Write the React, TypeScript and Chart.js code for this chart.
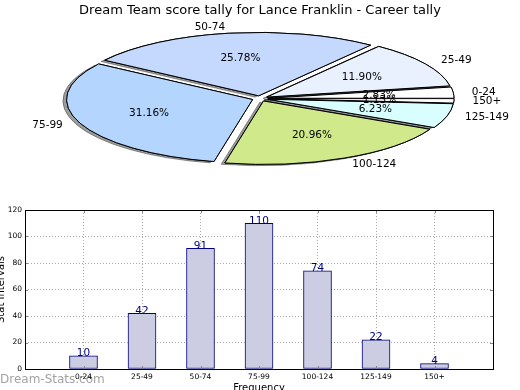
import React, { useEffect, useRef } from 'react';
import { Chart, registerables } from 'chart.js';

Chart.register(...registerables);

const TITLE = 'Dream Team score tally for Lance Franklin - Career tally';
const categories = ['0-24', '25-49', '50-74', '75-99', '100-124', '125-149', '150+'];
const counts = [10, 42, 91, 110, 74, 22, 4];
const sliceColors = ['#ffffff', '#e9f1fe', '#c4d9fd', '#b4d5fd', '#cfe98b', '#d9feff', '#ffffff'];
const yTicks = [0, 20, 40, 60, 80, 100, 120];
const X_TITLE = 'Frequency';
const Y_TITLE = 'Stat Intervals';
const WATERMARK = 'Dream-Stats.com';

const FONT = "'DejaVu Sans', 'Liberation Sans', sans-serif";
const total = counts.reduce((a, b) => a + b, 0);

// ellipse geometry for the tilted pie
const PIE_CX = 260;
const PIE_CY = 98.5;
const PIE_RX = 186;
const PIE_RY = 63.4;
const EXPLODE = 0.043;

function App() {
  const pieRef = useRef<HTMLCanvasElement | null>(null);
  const barRef = useRef<HTMLCanvasElement | null>(null);

  useEffect(() => {
    const pieLabels = [...categories].reverse();
    const pieValues = [...counts].reverse();
    const pieColors = [...sliceColors].reverse();

    const ellipsePie = {
      id: 'ellipsePie',
      beforeDatasetsDraw(chart: any) {
        const ctx = chart.ctx as CanvasRenderingContext2D;
        const els = chart.getDatasetMeta(0).data as any[];
        const dpr = chart.currentDevicePixelRatio || 1;
        const origStroke = CanvasRenderingContext2D.prototype.stroke;
        (ctx as any).stroke = function (...a: any[]) {
          this.save();
          this.setTransform(dpr, 0, 0, dpr, 0, 0);
          (origStroke as any).apply(this, a);
          this.restore();
        };
        const drawAll = () => {
          els.forEach((el) => {
            const r = el.outerRadius;
            const mid = (el.startAngle + el.endAngle) / 2;
            ctx.save();
            ctx.translate(
              PIE_CX + Math.cos(mid) * EXPLODE * PIE_RX,
              PIE_CY + Math.sin(mid) * EXPLODE * PIE_RY
            );
            ctx.scale(PIE_RX / r, PIE_RY / r);
            ctx.translate(-el.x, -el.y);
            el.draw(ctx);
            ctx.restore();
          });
        };
        ctx.save();
        ctx.shadowColor = 'rgba(60,60,60,0.5)';
        ctx.shadowOffsetX = -3.7;
        ctx.shadowOffsetY = 1.3;
        ctx.shadowBlur = 0;
        drawAll();
        ctx.restore();
        drawAll();
        delete (ctx as any).stroke;
        return false;
      },
      afterDraw(chart: any) {
        const ctx = chart.ctx as CanvasRenderingContext2D;
        const els = chart.getDatasetMeta(0).data as any[];
        const labels = chart.data.labels as string[];
        const values = chart.data.datasets[0].data as number[];
        ctx.save();
        ctx.fillStyle = '#000';
        ctx.font = `10.5px ${FONT}`;
        ctx.textBaseline = 'middle';
        els.forEach((el, i) => {
          const mid = (el.startAngle + el.endAngle) / 2;
          const c = Math.cos(mid);
          const s = Math.sin(mid);
          const px = PIE_CX + (EXPLODE + 0.6) * PIE_RX * c;
          const py = PIE_CY + (EXPLODE + 0.6) * PIE_RY * s;
          ctx.textAlign = 'center';
          ctx.fillText(((values[i] / total) * 100).toFixed(2) + '%', px, py);
          const lx = PIE_CX + (EXPLODE + 1.1) * PIE_RX * c;
          const ly = PIE_CY + (EXPLODE + 1.1) * PIE_RY * s;
          ctx.textAlign = c < 0 ? 'right' : 'left';
          ctx.fillText(labels[i], lx, ly);
        });
        ctx.restore();
      },
    };

    const pie = new Chart(pieRef.current as HTMLCanvasElement, {
      type: 'pie',
      data: {
        labels: pieLabels,
        datasets: [
          {
            data: pieValues,
            backgroundColor: pieColors,
            borderColor: '#000000',
            borderWidth: 1,
            borderJoinStyle: 'miter',
            offset: 0,
            hoverOffset: 0,
          } as any,
        ],
      },
      options: {
        responsive: false,
        animation: false,
        events: [],
        rotation: 90,
        plugins: {
          legend: { display: false },
          tooltip: { enabled: false },
          title: {
            display: true,
            text: TITLE,
            color: '#000',
            font: { family: FONT, size: 13, weight: 'normal' },
            padding: { top: 3, bottom: 4 },
          },
        },
      } as any,
      plugins: [ellipsePie],
    });

    const barDecor = {
      id: 'barDecor',
      beforeDraw(chart: any) {
        const ctx = chart.ctx as CanvasRenderingContext2D;
        ctx.save();
        ctx.fillStyle = '#a3a3a3';
        ctx.font = `12px ${FONT}`;
        ctx.textAlign = 'left';
        ctx.textBaseline = 'middle';
        ctx.fillText(WATERMARK, 0, 180);
        ctx.restore();
      },
      afterDraw(chart: any) {
        const ctx = chart.ctx as CanvasRenderingContext2D;
        const { left, right, top, bottom } = chart.chartArea;
        const xs = chart.scales.x;
        const ys = chart.scales.y;
        ctx.save();
        // small inner tick marks
        ctx.strokeStyle = '#888';
        ctx.lineWidth = 1;
        ctx.beginPath();
        categories.forEach((_, i) => {
          const x = Math.round(xs.getPixelForValue(i)) + 0.5;
          ctx.moveTo(x, bottom);
          ctx.lineTo(x, bottom - 3);
          ctx.moveTo(x, top);
          ctx.lineTo(x, top + 3);
        });
        yTicks.forEach((v) => {
          const y = Math.round(ys.getPixelForValue(v)) + 0.5;
          ctx.moveTo(left, y);
          ctx.lineTo(left + 3, y);
          ctx.moveTo(right, y);
          ctx.lineTo(right - 3, y);
        });
        ctx.stroke();
        // frame
        ctx.strokeStyle = '#000';
        ctx.strokeRect(Math.round(left) + 0.5, Math.round(top) + 0.5, Math.round(right - left), Math.round(bottom - top));
        // value labels
        const meta = chart.getDatasetMeta(0);
        ctx.fillStyle = '#000080';
        ctx.font = `10.5px ${FONT}`;
        ctx.textAlign = 'center';
        ctx.textBaseline = 'alphabetic';
        meta.data.forEach((el: any, i: number) => {
          ctx.fillText(String(counts[i]), el.x, el.y + 0.5);
        });
        // axis titles
        ctx.fillStyle = '#000';
        ctx.font = `10px ${FONT}`;
        ctx.textBaseline = 'top';
        ctx.fillText(X_TITLE, (left + right) / 2, 183);
        ctx.translate(1.5, (top + bottom) / 2);
        ctx.rotate(-Math.PI / 2);
        ctx.textBaseline = 'middle';
        ctx.fillText(Y_TITLE, 0, 0);
        ctx.restore();
      },
    };

    const gridColor = '#a8a8a8';
    const bar = new Chart(barRef.current as HTMLCanvasElement, {
      type: 'bar',
      data: {
        datasets: [
          {
            data: counts.map((v, i) => ({ x: i, y: v })),
            backgroundColor: '#ccccE2',
            borderColor: '#000080',
            borderWidth: 1,
            borderSkipped: false,
            barThickness: 28,
          } as any,
        ],
      },
      options: {
        responsive: false,
        animation: false,
        events: [],
        layout: { padding: { top: 10, right: 27, left: 0, bottom: 0 } },
        plugins: {
          legend: { display: false },
          tooltip: { enabled: false },
        },
        scales: {
          x: {
            type: 'linear',
            min: -1,
            max: 7,
            offset: false,
            z: 1,
            afterFit: (s: any) => {
              s.height = 36;
            },
            ticks: {
              stepSize: 1,
              autoSkip: false,
              maxRotation: 0,
              padding: 4,
              color: '#000',
              font: { family: FONT, size: 7.5 },
              callback: (v: any) => categories[v as number] ?? '',
            },
            grid: { color: gridColor, lineWidth: 1, drawTicks: false, offset: false },
            border: { display: false, dash: [1, 2] },
          },
          y: {
            min: 0,
            max: 120,
            z: 1,
            afterFit: (s: any) => {
              s.width = 25;
            },
            ticks: {
              stepSize: 20,
              padding: 3,
              color: '#000',
              font: { family: FONT, size: 7.5 },
            },
            grid: { color: gridColor, lineWidth: 1, drawTicks: false },
            border: { display: false, dash: [1, 2] },
          },
        },
      } as any,
      plugins: [barDecor],
    });

    return () => {
      pie.destroy();
      bar.destroy();
    };
  }, []);

  return (
    <div
      style={{
        position: 'fixed',
        left: 0,
        top: 0,
        width: 520,
        height: 390,
        overflow: 'hidden',
        background: '#fff',
      }}
    >
      <canvas ref={pieRef} width={520} height={200} style={{ position: 'absolute', left: 0, top: 0 }} />
      <canvas ref={barRef} width={520} height={205} style={{ position: 'absolute', left: 0, top: 200 }} />
    </div>
  );
}

export default App;
